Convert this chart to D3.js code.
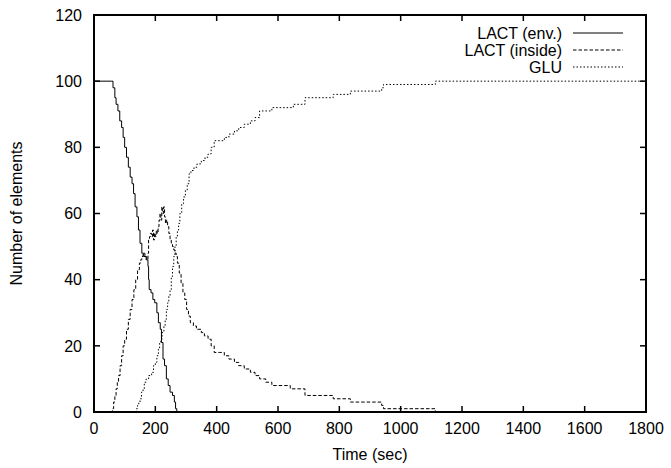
<!DOCTYPE html>
<html>
<head>
<meta charset="utf-8">
<script src="https://cdn.jsdelivr.net/npm/d3@7/dist/d3.min.js"></script>
<style>
html,body{margin:0;padding:0;background:#fff;}
text{font-family:"Liberation Sans",Arial,Helvetica,sans-serif;}
</style>
</head>
<body>
<svg id="chart" width="671" height="468"></svg>
<script>
// ---- data (time in sec, number of elements) ----
const seriesNames = ["LACT (env.)", "LACT (inside)", "GLU"];
const xTicks = [0,200,400,600,800,1000,1200,1400,1600,1800];
const yTicks = [0,20,40,60,80,100,120];

const lactEnvT = [0,58,62,68,72,78,84,90,95,100,106,112,118,124,129,134,140,145,150,156,162,170,176,178,180,186,192,198,205,210,216,220,225,230,236,242,248,256,262,266,270,1800];
const lactEnvV = [100,100,98,95,93,91,88,86,83,80,77,74,71,69,66,62,59,55,51,48,47,46,44,40,37,36,34,33,30,27,25,21,16,14,10,8,6,5,3,1,0,0];

const lactInT = [0,58,60,64,68,72,76,80,85,90,95,100,106,112,118,124,130,136,142,148,152,156,160,166,172,176,178,181,184,188,191,194,197,200,203,206,209,212,215,218,221,224,227,230,233,236,240,244,248,252,256,260,264,268,272,278,284,290,296,302,308,314,324,334,350,360,372,382,392,410,425,440,458,472,490,510,525,540,560,580,640,688,780,836,938,944,1113,1800];
const lactInV = [0,0,1,3,5,7,9,11,14,17,20,22,25,28,31,34,37,40,43,45,46,47,48,47,46,48,52,53,54,53,55,52,54,53,55,54,56,58,60,58,62,60,62,59,57,58,56,54,52,51,50,49,48,47,45,42,39,36,34,31,29,27,26,25,24,23,22,20,18,18,17,16,15,14,13,12,11,10,9,8,7,5,4,3,2,1,0,0];

const gluT = [0,135,138,142,146,150,155,160,164,170,178,188,194,200,205,210,214,218,222,228,232,236,240,244,248,252,256,260,264,268,272,276,280,286,292,298,304,310,316,326,336,350,362,372,382,392,410,425,440,458,472,490,510,525,540,580,650,688,780,836,938,944,1113,1800];
const gluV = [0,0,1,2,3,4,6,7,9,10,11,12,14,15,17,19,21,22,24,26,28,31,33,35,37,41,44,47,50,53,55,57,60,63,65,67,69,72,73,74,75,76,77,78,80,82,82,83,84,85,86,87,88,89,91,92,93,95,96,97,98,99,100,100];

const series = [
  {name: seriesNames[0], t: lactEnvT, v: lactEnvV, dash: null},
  {name: seriesNames[1], t: lactInT, v: lactInV, dash: "3.5,2"},
  {name: seriesNames[2], t: gluT, v: gluV, dash: "1.5,2"}
];

// ---- layout ----
const svg = d3.select("#chart");
const L = 94, R = 646, T = 15, B = 412;
const x = d3.scaleLinear().domain([0,1800]).range([L,R]);
const y = d3.scaleLinear().domain([0,120]).range([B,T]);

const fs = 16;
const tickLen = 6;

// ticks (inward, mirrored)
const g = svg.append("g");
xTicks.forEach(t => {
  g.append("line").attr("x1", x(t)).attr("x2", x(t)).attr("y1", B).attr("y2", B - tickLen).attr("stroke","#000").attr("stroke-width",1.5);
  g.append("line").attr("x1", x(t)).attr("x2", x(t)).attr("y1", T).attr("y2", T + tickLen).attr("stroke","#000").attr("stroke-width",1.5);
  g.append("text").attr("x", x(t)).attr("y", B + 22).attr("text-anchor","middle").attr("font-size", fs).text(t);
});
yTicks.forEach(t => {
  g.append("line").attr("x1", L).attr("x2", L + tickLen).attr("y1", y(t)).attr("y2", y(t)).attr("stroke","#000").attr("stroke-width",1.5);
  g.append("line").attr("x1", R).attr("x2", R - tickLen).attr("y1", y(t)).attr("y2", y(t)).attr("stroke","#000").attr("stroke-width",1.5);
  g.append("text").attr("x", L - 12).attr("y", y(t)).attr("dy","0.36em").attr("text-anchor","end").attr("font-size", fs).text(t);
});

// data lines
const line = d3.line().x(d => x(d[0])).y(d => y(d[1])).curve(d3.curveStepAfter);
series.forEach(s => {
  const pts = s.t.map((t,i) => [t, s.v[i]]);
  svg.append("path").attr("d", line(pts)).attr("fill","none").attr("stroke","#000").attr("stroke-width",1)
    .attr("stroke-dasharray", s.dash);
});

// frame
svg.append("rect").attr("x", L).attr("y", T).attr("width", R - L).attr("height", B - T)
  .attr("fill","none").attr("stroke","#000").attr("stroke-width",2);

// legend
series.forEach((s,i) => {
  const yy = 33 + i * 17;
  svg.append("text").attr("x", 562).attr("y", yy).attr("dy","0.36em").attr("text-anchor","end").attr("font-size", fs).text(s.name);
  svg.append("line").attr("x1", 573).attr("x2", 623).attr("y1", yy).attr("y2", yy)
    .attr("stroke","#000").attr("stroke-width",1).attr("stroke-dasharray", s.dash);
});

// axis titles
svg.append("text").attr("x", (L + R) / 2).attr("y", 460).attr("text-anchor","middle").attr("font-size", fs).text("Time (sec)");
svg.append("text").attr("transform", `translate(22,${(T + B) / 2}) rotate(-90)`).attr("text-anchor","middle").attr("font-size", fs).text("Number of elements");
</script>
</body>
</html>
